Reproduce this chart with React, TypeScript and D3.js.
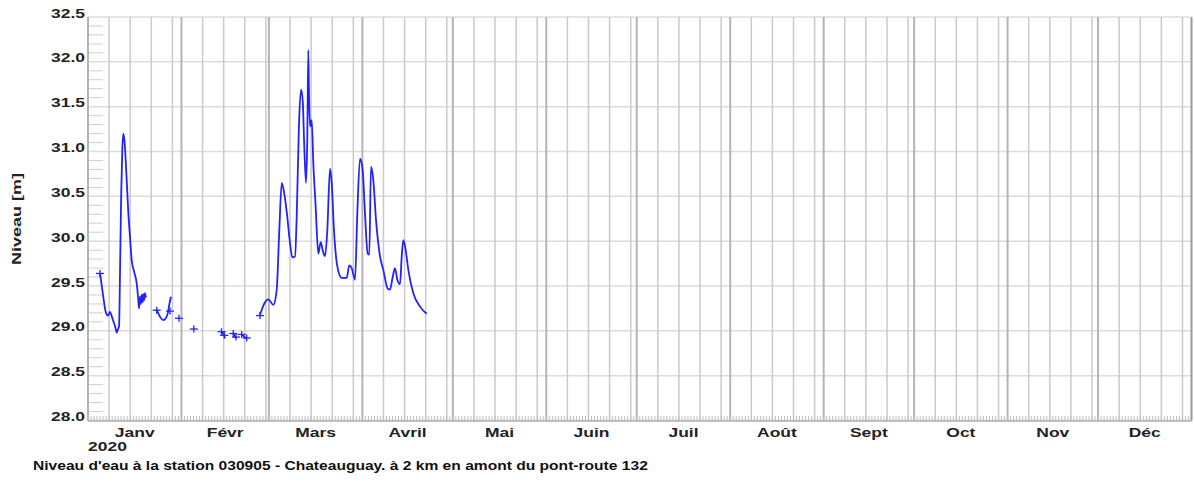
import * as d3 from "d3";

// day offsets are days since Jan 1 2020 (00:00 UTC), levels in metres
const monthLabels = ["Janv", "Févr", "Mars", "Avril", "Mai", "Juin", "Juil", "Août", "Sept", "Oct", "Nov", "Déc"];
const yearLabel = "2020";
const yTicks = [28.0, 28.5, 29.0, 29.5, 30.0, 30.5, 31.0, 31.5, 32.0, 32.5];
const weekDays = [1, 8, 15, 22, 29];
const yTitle = "Niveau [m]";
const title = "Niveau d'eau à la station 030905 - Chateauguay. à 2 km en amont du pont-route 132";

const segJanFlood: [number, number][] = [
  [3.98, 29.64], [4.9, 29.42], [5.97, 29.2], [6.6, 29.17], [7.3, 29.21], [7.8, 29.17],
  [8.39, 29.11], [8.9, 29.06], [9.19, 29.02], [9.52, 28.98], [9.85, 29.01], [10.3, 29.05],
  [10.6, 29.6], [11.0, 30.5], [11.4, 31.05], [11.71, 31.2], [12.1, 31.12], [12.84, 30.68],
  [13.4, 30.3], [13.93, 30.05], [14.49, 29.79], [15.3, 29.66], [16.15, 29.53], [16.6, 29.38],
  [16.92, 29.25], [17.25, 29.38], [17.5, 29.3], [17.8, 29.4], [18.1, 29.32], [18.35, 29.41],
  [18.6, 29.34], [18.9, 29.42], [19.2, 29.37],
];

const segJanLate: [number, number][] = [
  [22.79, 29.23], [23.4, 29.19], [24.0, 29.15], [24.97, 29.12], [25.8, 29.14],
  [26.5, 29.2], [27.0, 29.3], [27.53, 29.38],
];

const segFebA: [number, number][] = [[44.28, 28.99], [44.8, 28.97], [45.44, 28.92]];
const segFebB: [number, number][] = [[48.19, 28.97], [49.09, 28.92]];
const segFebC: [number, number][] = [[50.98, 28.96], [52.64, 28.91]];

const segSpring: [number, number][] = [
  [57.05, 29.18], [58.71, 29.32], [59.8, 29.35], [61.46, 29.29], [62.59, 29.46], [63.45, 30.12],
  [64.25, 30.65], [65.11, 30.53], [66.1, 30.27], [67.0, 29.98], [67.76, 29.82], [68.66, 29.83],
  [69.22, 30.27], [69.98, 31.31], [70.65, 31.69], [71.21, 31.57], [71.74, 31.05], [72.31, 30.65],
  [72.74, 31.16], [73.07, 32.13], [73.3, 31.65], [73.63, 31.28], [74.2, 31.35], [74.73, 30.87],
  [75.52, 30.38], [76.38, 29.86], [77.18, 29.99], [77.84, 29.9], [78.61, 29.83], [79.37, 30.12],
  [80.27, 30.81], [80.83, 30.65], [81.59, 30.12], [82.69, 29.72], [84.15, 29.59], [85.8, 29.59],
  [86.67, 29.73], [87.46, 29.7], [88.56, 29.57], [89.32, 30.31], [90.22, 30.92], [91.11, 30.79],
  [91.87, 30.31], [92.77, 29.86], [93.3, 29.85], [93.86, 30.83], [94.63, 30.68], [95.52, 30.24],
  [96.85, 29.83], [97.94, 29.68], [99.4, 29.47], [100.17, 29.46], [101.06, 29.6], [101.82, 29.7],
  [102.59, 29.57], [103.48, 29.52], [104.05, 29.83], [104.58, 30.01], [105.37, 29.9], [106.24, 29.68],
  [107.9, 29.42], [110.12, 29.27], [112.34, 29.19],
];

const crossMarkers: [number, number][] = [
  [3.98, 29.64], [22.79, 29.23], [27.2, 29.22], [30.18, 29.14], [35.09, 29.02], [44.28, 28.99],
  [45.2, 28.95], [48.19, 28.97], [49.09, 28.93], [50.98, 28.96], [52.64, 28.92], [57.05, 29.17],
];

const segments = [segJanFlood, segJanLate, segFebA, segFebB, segFebC, segSpring];

const W = 1194;
const H = 487;
const left = 88;
const right = 1191.5;
const top = 17;
const bottom = 420.5;
const blue = "#2222ff";
const font = "'Liberation Sans', Arial, sans-serif";

const start = new Date(Date.UTC(2020, 0, 1));
const end = new Date(Date.UTC(2021, 0, 1));
const toDate = (d: number) => new Date(start.getTime() + d * 864e5);

export default function App() {
  const x = d3.scaleUtc().domain([start, end]).range([left, right]);
  const y = d3.scaleLinear().domain([28, 32.5]).range([bottom, top]);

  const line = d3
    .line<[number, number]>()
    .x((d) => x(toDate(d[0])))
    .y((d) => y(d[1]))
    .curve(d3.curveMonotoneX);

  const months = d3.utcMonth.range(start, end);
  const weekLines: { date: Date; first: boolean }[] = [];
  months.forEach((m) => {
    weekDays.forEach((wd) => {
      const dt = new Date(Date.UTC(2020, m.getUTCMonth(), wd));
      if (dt.getUTCMonth() === m.getUTCMonth()) weekLines.push({ date: dt, first: wd === 1 });
    });
  });
  const days = d3.utcDay.range(start, end);
  const minorTicks = d3.range(280, 325).filter((v) => v % 5 !== 0).map((v) => v / 10);

  return (
    <svg width={W} height={H} style={{ position: "absolute", left: 0, top: 0, background: "#fff" }}>
      {/* horizontal grid */}
      {yTicks.map((t) => (
        <line key={"h" + t} x1={left} x2={right} y1={y(t)} y2={y(t)} stroke="#dcdcdc" strokeWidth={1.5} />
      ))}
      {/* minor y ticks */}
      {minorTicks.map((t) => (
        <line key={"m" + t} x1={left} x2={left + 15} y1={y(t)} y2={y(t)} stroke="#cfcfcf" strokeWidth={1} />
      ))}
      {/* weekly and month lines */}
      {weekLines.map((w, i) => (
        <line
          key={"w" + i}
          x1={x(w.date)}
          x2={x(w.date)}
          y1={top}
          y2={bottom}
          stroke={w.first ? "#b4b4b4" : "#cacaca"}
          strokeWidth={w.first ? 2 : 1.5}
        />
      ))}
      {/* daily ticks on bottom */}
      {days.map((d, i) => (
        <line key={"d" + i} x1={x(d)} x2={x(d)} y1={bottom - 4.5} y2={bottom} stroke="#bdbdbd" strokeWidth={1} />
      ))}
      <line x1={left} x2={right} y1={bottom + 0.5} y2={bottom + 0.5} stroke="#b0b0b0" strokeWidth={1.5} />
      <line x1={right} x2={right} y1={top} y2={bottom} stroke="#9a9a9a" strokeWidth={2} />
      <line x1={left} x2={left} y1={top} y2={bottom} stroke="#b4b4b4" strokeWidth={1.5} />

      {/* data */}
      {segments.map((s, i) => (
        <path key={"s" + i} d={line(s) ?? ""} fill="none" stroke={blue} strokeWidth={1.8} strokeLinejoin="round" />
      ))}
      {crossMarkers.map((p, i) => {
        const cx = x(toDate(p[0]));
        const cy = y(p[1]);
        return (
          <g key={"c" + i} stroke={blue} strokeWidth={1.3}>
            <line x1={cx - 4} x2={cx + 4} y1={cy} y2={cy} />
            <line x1={cx} x2={cx} y1={cy - 3.5} y2={cy + 3.5} />
          </g>
        );
      })}

      {/* y tick labels */}
      {yTicks.map((t) => (
        <text
          key={"yl" + t}
          transform={`translate(85,${y(t) + 0.5}) scale(1.4,1)`}
          textAnchor="end"
          fontFamily={font}
          fontWeight="bold"
          fontSize={12.5}
          fill="#222"
        >
          {t.toFixed(1)}
        </text>
      ))}
      <text
        transform={`translate(20.5,219) rotate(-90) scale(1.44,1)`}
        textAnchor="middle"
        fontFamily={font}
        fontWeight="bold"
        fontSize={12.5}
        fill="#222"
      >
        {yTitle}
      </text>

      {/* month labels */}
      {months.map((m, i) => {
        const cx = (x(m) + x(d3.utcMonth.offset(m, 1))) / 2;
        return (
          <text
            key={"ml" + i}
            transform={`translate(${cx},437) scale(1.4,1)`}
            textAnchor="middle"
            fontFamily={font}
            fontWeight="bold"
            fontSize={12.5}
            fill="#222"
          >
            {monthLabels[i]}
          </text>
        );
      })}
      <text transform={`translate(${left},451) scale(1.4,1)`} fontFamily={font} fontWeight="bold" fontSize={12.5} fill="#222">
        {yearLabel}
      </text>

      <text transform="translate(33,470) scale(1.2,1)" fontFamily={font} fontWeight="bold" fontSize={13} fill="#111">
        {title}
      </text>
    </svg>
  );
}
